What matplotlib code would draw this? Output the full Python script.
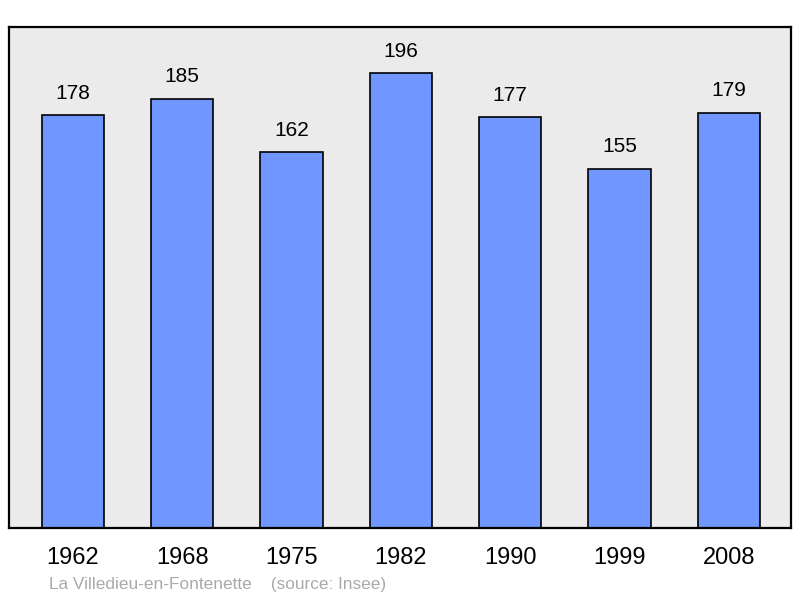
import matplotlib.pyplot as plt

plt.rcParams['font.family'] = ['Liberation Sans', 'DejaVu Sans']

years = ['1962', '1968', '1975', '1982', '1990', '1999', '2008']
population = [178, 185, 162, 196, 177, 155, 179]

fig = plt.figure(figsize=(8, 5.98), dpi=100)
ax = fig.add_axes([0.01125, 0.117, 0.9775, 0.8378])
ax.set_facecolor('#ebebeb')

x = range(len(years))
bars = ax.bar(x, population, width=0.57, color='#7096ff',
              edgecolor='black', linewidth=1.2, zorder=2)
for xi, v in zip(x, population):
    ax.annotate(str(v), (xi, v), xytext=(0, 9), textcoords='offset points',
                ha='center', va='bottom', fontsize=15)

ax.set_xlim(-0.585, 6.57)
ax.set_ylim(0, 216)
ax.set_yticks([])
ax.set_xticks(list(x))
ax.set_xticklabels(years, fontsize=17)
ax.tick_params(axis='x', length=0, pad=14)
for s in ax.spines.values():
    s.set_linewidth(1.6)

fig.text(49 / 800, 1 - 584 / 598, 'La Villedieu-en-Fontenette    (source: Insee)',
         fontsize=12.4, color='#aaaaaa', ha='left', va='center')

fig.savefig('out.png', dpi=100)
